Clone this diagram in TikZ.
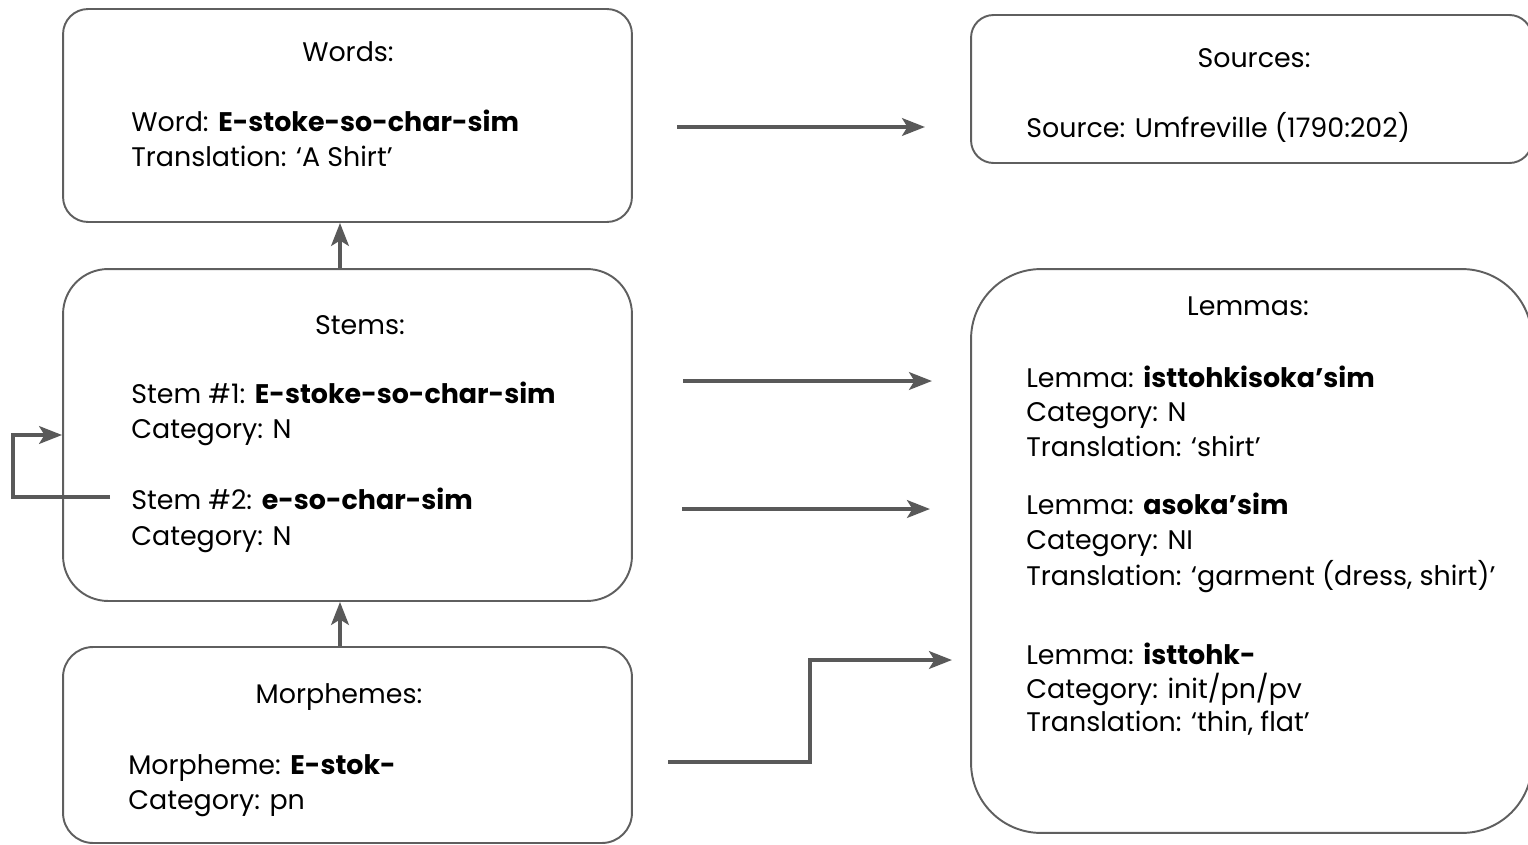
\documentclass[tikz,border=0pt]{standalone}
\usepackage{fontspec}
\setmainfont{Poppins}
\usepackage{tikz}
\usetikzlibrary{positioning, arrows.meta, calc}
\definecolor{boxgray}{HTML}{5F5F5F}
\definecolor{arrowgray}{HTML}{595959}
\tikzset{
  panel/.style={draw=boxgray, line width=1.1pt, inner sep=0pt},
  heading/.style={anchor=base, inner sep=0pt, font=\fontsize{15.3}{19}\selectfont},
  entry/.style={anchor=base west, inner sep=0pt, font=\fontsize{15.3}{19}\selectfont},
  link/.style={draw=arrowgray, line width=2.3pt, -{Stealth[length=13pt, width=10pt, inset=3pt]}}
}

\begin{document}
\begin{tikzpicture}[x=0.02cm, y=-0.02cm]
    \useasboundingbox (0,0) rectangle (1528,845);

    % boxes
    \node[panel, rounded corners=0.5cm, minimum width=11.38cm, minimum height=4.26cm] (words) at (347.5,115.5) {};
    \node[panel, rounded corners=0.9cm, minimum width=11.38cm, minimum height=6.64cm] (stems) at (347.5,435) {};
    \node[panel, rounded corners=0.6cm, minimum width=11.38cm, minimum height=3.92cm] (morphs) at (347.5,745) {};
    \node[panel, rounded corners=0.45cm, minimum width=11.22cm, minimum height=2.96cm] (sources) at (1251.5,89) {};
    \node[panel, rounded corners=1.4cm, minimum width=11.22cm, minimum height=11.28cm] (lemmas) at (1251.5,551) {};

    % words
    \node[heading] (wordsTitle) at (348,61) {Words:};
    \node[entry] (wordForm) at (131,131) {Word: \textbf{E-stoke-so-char-sim}};
    \node[entry] (wordGloss) at (131,166) {Translation: ‘A Shirt’};

    % stems
    \node[heading] (stemsTitle) at (360,334) {Stems:};
    \node[entry] (stemOne) at (131,403) {Stem \#1: \textbf{E-stoke-so-char-sim}};
    \node[entry] (stemOneCat) at (131,438) {Category: N};
    \node[entry] (stemTwo) at (131,509) {Stem \#2: \textbf{e-so-char-sim}};
    \node[entry] (stemTwoCat) at (131,545) {Category: N};

    % morphemes
    \node[heading] (morphsTitle) at (339,703) {Morphemes:};
    \node[entry] (morphForm) at (128,774) {Morpheme: \textbf{E-stok-}};
    \node[entry] (morphCat) at (128,809) {Category: pn};

    % sources
    \node[heading] (sourcesTitle) at (1254,67) {Sources:};
    \node[entry] (sourceRef) at (1026,137) {Source: Umfreville (1790:202)};

    % lemmas
    \node[heading] (lemmasTitle) at (1248,315) {Lemmas:};
    \node[entry] (lemOne) at (1026,387) {Lemma: \textbf{isttohkisoka’sim}};
    \node[entry] (lemOneCat) at (1026,421) {Category: N};
    \node[entry] (lemOneGloss) at (1026,456) {Translation: ‘shirt’};
    \node[entry] (lemTwo) at (1026,514) {Lemma: \textbf{asoka’sim}};
    \node[entry] (lemTwoCat) at (1026,549) {Category: NI};
    \node[entry] (lemTwoGloss) at (1026,585) {Translation: ‘garment (dress, shirt)’};
    \node[entry] (lemThree) at (1026,664) {Lemma: \textbf{isttohk-}};
    \node[entry] (lemThreeCat) at (1026,698) {Category: init/pn/pv};
    \node[entry] (lemThreeGloss) at (1026,731) {Translation: ‘thin, flat’};

    % arrow ends
    \coordinate (wsStart) at (677,127);
    \coordinate (wsEnd) at (925,127);
    \coordinate (slOneStart) at (683,381);
    \coordinate (slOneEnd) at (932,381);
    \coordinate (slTwoStart) at (682,509);
    \coordinate (slTwoEnd) at (930,509);
    \coordinate (mlStart) at (668,762);
    \coordinate (mlEnd) at (952,660);
    \coordinate (loopStart) at (110,497);

    % links
    \draw[link] (wsStart) -- (wsEnd);
    \draw[link] ([xshift=-0.15cm]stems.north) -- ([xshift=-0.15cm]words.south);
    \draw[link] ([xshift=-0.15cm]morphs.north) -- ([xshift=-0.15cm]stems.south);
    \draw[link] (slOneStart) -- (slOneEnd);
    \draw[link] (slTwoStart) -- (slTwoEnd);
    \draw[link] (mlStart) -- ++(142,0) |- (mlEnd);
    \draw[link] (loopStart) -- ++(-97,0) |- (stems.west);
  \end{tikzpicture}
\end{document}
